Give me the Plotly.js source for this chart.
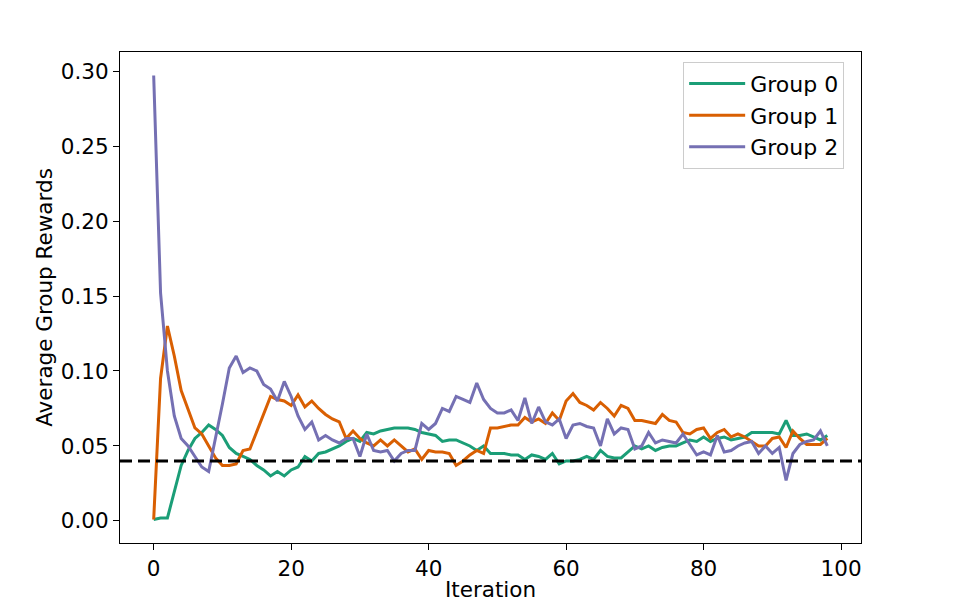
<!DOCTYPE html>
<html>
<head>
<meta charset="utf-8">
<script src="https://cdn.plot.ly/plotly-3.0.1.min.js"></script>
<style>html,body{margin:0;padding:0;background:#fff;}#chart{width:957px;height:614px;}</style>
</head>
<body>
<div id="chart"></div>
<script>
const iterations = Array.from({length: 99}, (_, i) => i);
const group0 = [0.001,0.002,0.002,0.020,0.037,0.047,0.055,0.059,0.064,0.061,
0.057,0.049,0.045,0.043,0.041,0.037,0.034,0.030,0.033,0.030,
0.034,0.036,0.043,0.040,0.045,0.046,0.048,0.050,0.053,0.055,
0.053,0.059,0.058,0.060,0.061,0.062,0.062,0.062,0.061,0.059,
0.058,0.057,0.053,0.054,0.054,0.052,0.050,0.047,0.050,0.045,
0.045,0.045,0.044,0.044,0.041,0.044,0.043,0.041,0.045,0.038,
0.040,0.040,0.041,0.043,0.041,0.047,0.043,0.042,0.042,0.046,
0.050,0.048,0.050,0.047,0.049,0.050,0.050,0.052,0.054,0.053,
0.056,0.053,0.055,0.056,0.054,0.055,0.056,0.059,0.059,0.059,
0.059,0.058,0.067,0.057,0.057,0.058,0.056,0.054,0.057];
const group1 = [0.001,0.095,0.130,0.110,0.087,0.074,0.062,0.058,0.050,0.042,
0.037,0.037,0.038,0.047,0.048,0.060,0.072,0.083,0.081,0.080,
0.077,0.084,0.076,0.080,0.075,0.071,0.068,0.066,0.055,0.060,
0.055,0.052,0.050,0.054,0.050,0.054,0.050,0.046,0.048,0.041,
0.047,0.046,0.046,0.045,0.037,0.040,0.044,0.047,0.045,0.062,
0.062,0.063,0.064,0.064,0.069,0.066,0.068,0.065,0.072,0.067,
0.080,0.085,0.079,0.077,0.074,0.079,0.075,0.070,0.077,0.075,
0.067,0.067,0.066,0.065,0.071,0.067,0.066,0.059,0.058,0.061,
0.062,0.055,0.059,0.061,0.056,0.058,0.056,0.053,0.050,0.050,
0.055,0.056,0.049,0.060,0.055,0.051,0.051,0.051,0.055];
const group2 = [0.297,0.152,0.100,0.070,0.055,0.050,0.043,0.036,0.033,0.055,
0.078,0.102,0.110,0.099,0.102,0.100,0.091,0.088,0.080,0.093,
0.083,0.070,0.061,0.066,0.054,0.057,0.054,0.052,0.055,0.055,
0.043,0.058,0.047,0.046,0.047,0.040,0.045,0.047,0.047,0.065,
0.061,0.065,0.075,0.073,0.083,0.081,0.079,0.092,0.081,0.075,
0.072,0.072,0.074,0.067,0.082,0.065,0.076,0.066,0.064,0.068,
0.055,0.064,0.065,0.063,0.062,0.050,0.068,0.058,0.062,0.061,
0.048,0.050,0.059,0.052,0.054,0.053,0.052,0.058,0.051,0.044,
0.046,0.044,0.057,0.046,0.047,0.050,0.052,0.053,0.045,0.050,
0.045,0.049,0.027,0.045,0.051,0.053,0.054,0.060,0.050];
const seriesNames = ["Group 0", "Group 1", "Group 2"];
const seriesColors = ["#1b9e77", "#d95f02", "#7570b3"];
const threshold = 0.04;
const xTicks = [0, 20, 40, 60, 80, 100];
const yTicks = [0.00, 0.05, 0.10, 0.15, 0.20, 0.25, 0.30];

const allSeries = [group0, group1, group2];
const traces = allSeries.map((s, k) => ({
  x: iterations, y: s, type: 'scatter', mode: 'lines', name: seriesNames[k],
  line: {color: seriesColors[k], width: 3}
}));

const font = {family: 'DejaVu Sans, sans-serif', size: 21.5, color: '#000'};
const layout = {
  width: 957, height: 614,
  margin: {l: 120, r: 96, t: 52, b: 71, pad: 0},
  paper_bgcolor: '#fff', plot_bgcolor: '#fff',
  font: font,
  showlegend: true,
  legend: {x: 0.76, y: 0.98, xanchor: 'left', yanchor: 'top',
    bgcolor: 'rgba(255,255,255,0.8)', bordercolor: '#cccccc', borderwidth: 1,
    font: {family: 'DejaVu Sans, sans-serif', size: 22, color: '#000'},
    tracegroupgap: 0, itemwidth: 56},
  xaxis: {range: [-4.9, 102.9], tickvals: xTicks, ticktext: xTicks.map(String),
    showgrid: false, zeroline: false, showline: true, mirror: true,
    linecolor: '#000', linewidth: 1, ticks: 'outside', ticklen: 6, tickcolor: '#000',
    tickfont: font, automargin: false,
    title: {text: 'Iteration', font: font, standoff: 2}},
  yaxis: {range: [-0.0147, 0.3127], tickvals: yTicks, ticktext: yTicks.map(v => v.toFixed(2)),
    showgrid: false, zeroline: false, showline: true, mirror: true,
    linecolor: '#000', linewidth: 1, ticks: 'outside', ticklen: 6, tickcolor: '#000',
    tickfont: font, automargin: false,
    title: {text: 'Average Group Rewards', font: font, standoff: 2}},
  shapes: [{type: 'line', xref: 'paper', x0: 0, x1: 1, yref: 'y', y0: threshold, y1: threshold,
    line: {color: '#000', width: 3, dash: '12px,6px'}}]
};
Plotly.newPlot('chart', traces, layout, {displayModeBar: false, staticPlot: true});
</script>
</body>
</html>
